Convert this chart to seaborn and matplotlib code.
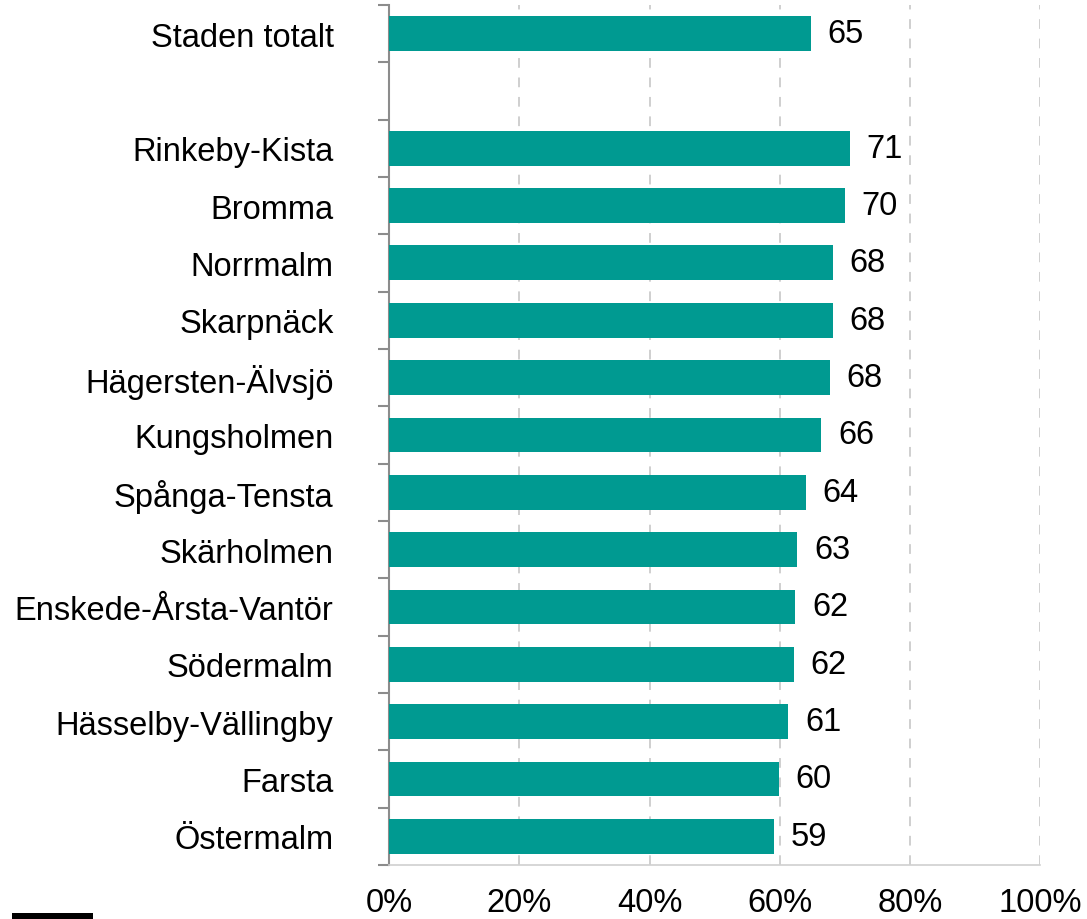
import numpy as np
import pandas as pd
import seaborn as sns
import matplotlib.pyplot as plt
from matplotlib.patches import Rectangle
from matplotlib.ticker import FixedLocator

stadsdelar = ["Staden totalt", " ", "Rinkeby-Kista", "Bromma", "Norrmalm", "Skarpnäck",
              "Hägersten-Älvsjö", "Kungsholmen", "Spånga-Tensta", "Skärholmen",
              "Enskede-Årsta-Vantör", "Södermalm", "Hässelby-Vällingby", "Farsta", "Östermalm"]
andel = [64.8, np.nan, 70.8, 70.0, 68.2, 68.2, 67.7, 66.4, 64.0, 62.7, 62.4, 62.2, 61.3, 59.9, 59.1]
xticks = [0, 20, 40, 60, 80, 100]

df = pd.DataFrame({"stadsdel": stadsdelar, "andel": andel}).dropna()

sns.set_style("white")
plt.rcParams["font.family"] = ["Liberation Sans", "DejaVu Sans"]
plt.rcParams["text.color"] = "black"
plt.rcParams["xtick.labelcolor"] = "black"
plt.rcParams["ytick.labelcolor"] = "black"

fig = plt.figure(figsize=(10.87, 9.2), dpi=100)
ax = fig.add_axes([0.358, 0.0587, 0.599, 0.9348])

sns.barplot(data=df, x="andel", y="stadsdel", order=stadsdelar, color="#009A91",
            saturation=1, width=0.61, linewidth=0, ax=ax, zorder=3)

for c in ax.containers:
    ax.bar_label(c, labels=[f"{v:.0f}" for v in c.datavalues], padding=12,
                 fontsize=23.5, color="black")

ax.set_xlim(0, 100)
ax.set_ylim(len(stadsdelar) - 0.5, -0.5)
ax.set_xticks(xticks)
ax.set_xticklabels([f"{t}%" for t in xticks], fontsize=23.5)
ax.tick_params(axis="x", length=0, pad=16)
ax.tick_params(axis="y", which="major", length=0, pad=40, labelsize=23.5)
ax.yaxis.set_minor_locator(FixedLocator(np.arange(-0.5, len(stadsdelar), 1.0)))
ax.tick_params(axis="y", which="minor", length=8, width=1.5, color="#8c8c8c", left=True)
ax.set_xlabel("")
ax.set_ylabel("")

for t in xticks[1:]:
    ax.axvline(t, color="#cfcfcf", lw=1.4, ls=(0, (5, 5)), zorder=1)

for s in ["top", "right"]:
    ax.spines[s].set_visible(False)
ax.spines["left"].set_color("#8c8c8c")
ax.spines["left"].set_linewidth(1.5)
ax.spines["bottom"].set_color("#d0d0d0")
ax.spines["bottom"].set_linewidth(1.2)

fig.patches.append(Rectangle((12 / 1087, 0), 81 / 1087, 6 / 920, transform=fig.transFigure,
                             facecolor="black", edgecolor="none"))

fig.savefig("out.png", dpi=100)
